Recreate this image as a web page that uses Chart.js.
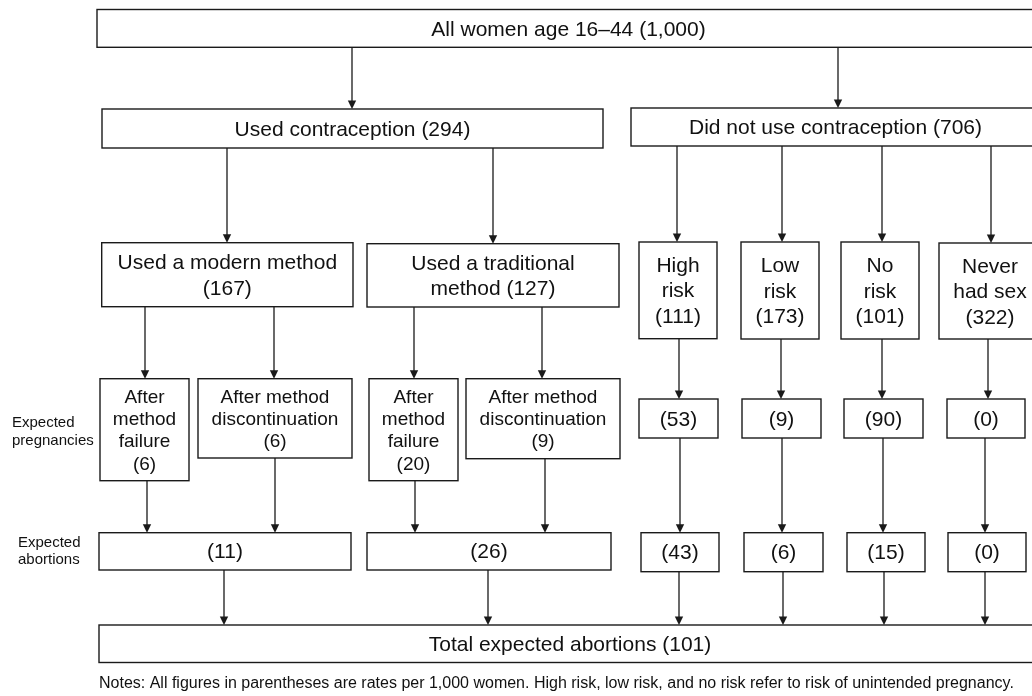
<!DOCTYPE html>
<html><head><meta charset="utf-8">
<script src="https://cdn.jsdelivr.net/npm/chart.js@4.4.1/dist/chart.umd.min.js"></script>
<style>html,body{margin:0;padding:0;background:#fff}#wrap{width:1032px;height:696px}</style>
</head><body><div id="wrap"><canvas id="c" width="1032" height="696"></canvas></div>
<script>
// ---- content (labels and rates per 1,000 women) ----
const nodeNames = [
  'All women age 16\u201344 ',
  'Used contraception ',
  'Did not use contraception ',
  'Used a modern method\n',
  'Used a traditional\nmethod ',
  'High\nrisk\n',
  'Low\nrisk\n',
  'No\nrisk\n',
  'Never\nhad sex\n',
  'After\nmethod\nfailure\n',
  'After method\ndiscontinuation\n',
  'After\nmethod\nfailure\n',
  'After method\ndiscontinuation\n',
  '', '', '', '',
  '', '', '', '', '', '',
  'Total expected abortions '
];
const nodeRates = [1000, 294, 706, 167, 127, 111, 173, 101, 322, 6, 6, 20, 9, 53, 9, 90, 0, 11, 26, 43, 6, 15, 0, 101];
const sideLabels = ['Expected\npregnancies', 'Expected\nabortions'];
const noteText = 'Notes: All figures in parentheses are rates per 1,000 women. High risk, low risk, and no risk refer to risk of unintended pregnancy.';

// ---- layout (positions in axis units, font px, line height) ----
const boxes = [
  [97, 9.5, 1040, 47.3, 21, 25.5],
  [102, 109, 603, 148, 21, 25.5],
  [631, 108, 1040, 146, 21, 25.5],
  [101.7, 242.7, 353, 306.7, 21, 25.5],
  [367, 243.7, 619, 307, 21, 25.5],
  [639, 242, 717, 338.7, 21, 25.5],
  [741, 242, 819, 339, 21, 25.5],
  [841, 242, 919, 339, 21, 25.5],
  [939, 243, 1041, 339, 21, 25.5],
  [100, 378.7, 189, 480.7, 19, 22.3],
  [198, 378.7, 352, 458, 19, 22.3],
  [369, 378.7, 458, 480.7, 19, 22.3],
  [466, 378.7, 620, 458.7, 19, 22.3],
  [639, 399, 718, 438, 21, 25.5],
  [742, 399, 821, 438, 21, 25.5],
  [844, 399, 923, 438, 21, 25.5],
  [947, 399, 1025, 438, 21, 25.5],
  [99, 532.7, 351, 570, 21, 25.5],
  [367, 532.7, 611, 570, 21, 25.5],
  [641, 532.7, 719, 571.7, 21, 25.5],
  [744, 532.7, 823, 571.7, 21, 25.5],
  [847, 532.7, 925, 571.7, 21, 25.5],
  [948, 532.7, 1026, 571.7, 21, 25.5],
  [99, 625, 1041, 662.5, 21, 25.5]
];
const edges = [
  [0,1,352],[0,2,838],[1,3,227],[1,4,493],[2,5,677],[2,6,782],[2,7,882],[2,8,991],
  [3,9,145],[3,10,274],[4,11,414],[4,12,542],[5,13,679],[6,14,781],[7,15,882],[8,16,988],
  [9,17,147],[10,17,275],[11,18,415],[12,18,545],[13,19,680],[14,20,782],[15,21,883],[16,22,985],
  [17,23,224],[18,23,488],[19,23,679],[20,23,783],[21,23,884],[22,23,985]
];
const sidePos = [[12, 427, 18], [18, 547, 17]];
const notePos = [99, 688];

const FONT = '"Liberation Sans", Arial, Helvetica, sans-serif';

const flowPlugin = {
  id: 'flow',
  afterDraw(chart) {
    const ctx = chart.ctx;
    const X = v => chart.scales.x.getPixelForValue(v);
    const Y = v => chart.scales.y.getPixelForValue(v);
    ctx.save();
    ctx.strokeStyle = '#1a1a1a';
    ctx.fillStyle = '#1a1a1a';
    ctx.lineWidth = 1.3;
    edges.forEach(([f, t, x]) => {
      const y0 = Y(boxes[f][3]), y1 = Y(boxes[t][1]), px = X(x);
      ctx.beginPath(); ctx.moveTo(px, y0); ctx.lineTo(px, y1 - 6); ctx.stroke();
      ctx.beginPath(); ctx.moveTo(px - 4.2, y1 - 8.5); ctx.lineTo(px + 4.2, y1 - 8.5); ctx.lineTo(px, y1); ctx.closePath(); ctx.fill();
    });
    ctx.lineWidth = 1.4;
    boxes.forEach((b, i) => {
      const x0 = X(b[0]), y0 = Y(b[1]), x1 = X(b[2]), y1 = Y(b[3]);
      ctx.strokeRect(x0, y0, x1 - x0, y1 - y0);
      const text = nodeNames[i] + '(' + nodeRates[i].toLocaleString('en-US') + ')';
      const lines = text.split('\n');
      ctx.font = b[4] + 'px ' + FONT;
      ctx.textAlign = 'center';
      ctx.textBaseline = 'alphabetic';
      ctx.fillStyle = '#111';
      const cx = (x0 + x1) / 2, cy = (y0 + y1) / 2, lh = b[5];
      lines.forEach((ln, k) => {
        ctx.fillText(ln, cx, cy + (k - (lines.length - 1) / 2) * lh + 0.34 * b[4]);
      });
    });
    ctx.font = '15px ' + FONT;
    ctx.textAlign = 'left';
    ctx.fillStyle = '#111';
    sideLabels.forEach((s, i) => {
      const [sx, sy, lh] = sidePos[i];
      s.split('\n').forEach((ln, k) => ctx.fillText(ln, X(sx), Y(sy + k * lh)));
    });
    ctx.font = '16px ' + FONT;
    ctx.fillText(noteText, X(notePos[0]), Y(notePos[1]));
    ctx.restore();
  }
};

new Chart(document.getElementById('c'), {
  type: 'scatter',
  data: { datasets: [] },
  options: {
    responsive: false,
    animation: false,
    layout: { padding: 0 },
    plugins: { legend: { display: false }, tooltip: { enabled: false } },
    scales: {
      x: { type: 'linear', min: 0, max: 1032, display: false },
      y: { type: 'linear', min: 0, max: 696, reverse: true, display: false }
    }
  },
  plugins: [flowPlugin]
});
</script>
</body></html>
